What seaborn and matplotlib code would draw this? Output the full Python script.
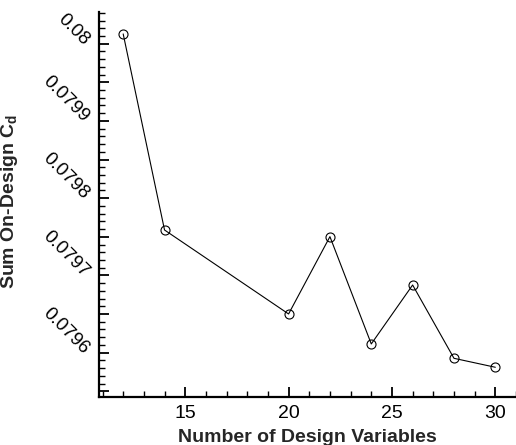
import matplotlib
matplotlib.use("Agg")
import matplotlib.pyplot as plt
import matplotlib.transforms as mtransforms
import seaborn as sns
import pandas as pd
from matplotlib.ticker import MultipleLocator, FuncFormatter

design_vars = [12, 14, 20, 22, 24, 26, 28, 30]
sum_cd = [0.0800126, 0.0797588, 0.0796501, 0.0797502, 0.0796113, 0.0796876, 0.0795927, 0.0795811]

sns.set_theme(style="ticks")
plt.rcParams['font.family'] = ['Liberation Sans', 'DejaVu Sans']
plt.rcParams['mathtext.fontset'] = 'custom'
plt.rcParams['mathtext.rm'] = 'Liberation Sans'
plt.rcParams['mathtext.bf'] = 'Liberation Sans:bold'

df = pd.DataFrame({"n": design_vars, "cd": sum_cd})

fig = plt.figure(figsize=(5.16, 4.45), dpi=100)
ax = fig.add_axes([99/516, (445-396.7)/445, (516-99)/516, (396.7-11.7)/445])

sns.lineplot(data=df, x="n", y="cd", ax=ax, color="black", linewidth=0.8,
             marker="o", markersize=6.5, markerfacecolor="none",
             markeredgecolor="black", markeredgewidth=0.8)

ax.set_xlim(10.83, 31.0)
ax.set_ylim(0.079543, 0.0800414)

ax.xaxis.set_major_locator(MultipleLocator(5))
ax.xaxis.set_minor_locator(MultipleLocator(1))
ax.yaxis.set_major_locator(MultipleLocator(0.00005))
ax.yaxis.set_minor_locator(MultipleLocator(0.00001))

def yfmt(v, pos):
    k = round(v / 0.00005)
    if k % 2 != 0:
        return ""
    return f"{v:.4f}".rstrip("0")
ax.yaxis.set_major_formatter(FuncFormatter(yfmt))

ax.tick_params(axis="both", which="major", direction="in", length=7, width=1.3,
               colors="black")
ax.tick_params(axis="both", which="minor", direction="in", length=4, width=1.0,
               colors="black")
ax.tick_params(axis="x", which="major", pad=6, labelsize=14)
ax.tick_params(axis="y", which="major", pad=11.5, labelsize=13.5)

offset = mtransforms.ScaledTranslation(0, -2/100, fig.dpi_scale_trans)
for lab in ax.get_yticklabels():
    lab.set_rotation(-45)
    lab.set_rotation_mode("anchor")
    lab.set_ha("right")
    lab.set_va("baseline")
    lab.set_transform(lab.get_transform() + offset)

for side in ["top", "right"]:
    ax.spines[side].set_visible(False)
for side in ["left", "bottom"]:
    ax.spines[side].set_linewidth(1.6)
    ax.spines[side].set_color("black")

ax.set_xlabel("Number of Design Variables", fontsize=14, fontweight="bold", labelpad=5)
ax.set_ylabel(r"Sum On-Design C$_\mathbf{d}$", fontsize=14, fontweight="bold")
ax.yaxis.set_label_coords((20 - 99) / 417, (445 - 201 - 48.3) / 385)

fig.savefig("out.png", dpi=100)
